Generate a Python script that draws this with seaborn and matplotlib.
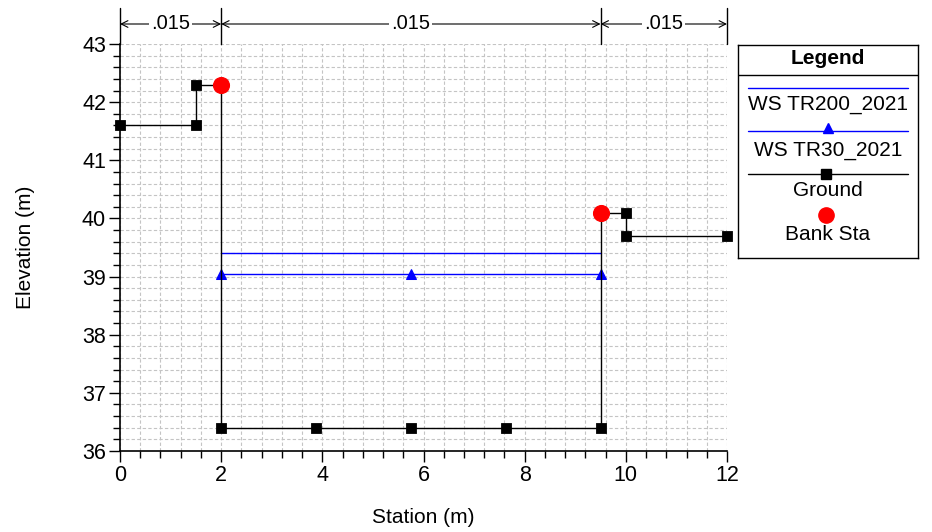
import matplotlib
matplotlib.use("Agg")
import matplotlib.pyplot as plt
import seaborn as sns
import numpy as np
import pandas as pd
from matplotlib.ticker import MultipleLocator

# ---- data ----
ground_x = [0, 1.5, 1.5, 2, 2, 3.875, 5.75, 7.625, 9.5, 9.5, 10, 10, 12]
ground_y = [41.6, 41.6, 42.3, 42.3, 36.4, 36.4, 36.4, 36.4, 36.4, 40.1, 40.1, 39.7, 39.7]
ground_mark = [True, True, True, False, True, True, True, True, True, False, True, True, True]
bank_x = [2, 9.5]
bank_y = [42.3, 40.1]
ws200_x = [2, 9.5]
ws200_y = [39.4, 39.4]
ws30_x = [2, 5.75, 9.5]
ws30_y = [39.05, 39.05, 39.05]
n_breaks = [0, 2, 9.5, 12]
n_values = [".015", ".015", ".015"]
legend_labels = ["WS TR200_2021", "WS TR30_2021", "Ground", "Bank Sta"]

sns.set_theme(style="white")
plt.rcParams['font.family'] = ['Liberation Sans', 'DejaVu Sans']
plt.rcParams['text.color'] = 'black'
plt.rcParams['axes.labelcolor'] = 'black'

fig = plt.figure(figsize=(9.32, 5.32), dpi=100)
ax = fig.add_axes([120/932, 1-451/532, 607/932, 407/532])

gdf = pd.DataFrame({"x": ground_x, "y": ground_y})
sns.lineplot(data=pd.DataFrame({"x": ws200_x, "y": ws200_y}), x="x", y="y", ax=ax,
             color="#0000ff", lw=1.0, sort=False, estimator=None, zorder=3)
sns.lineplot(data=pd.DataFrame({"x": ws30_x, "y": ws30_y}), x="x", y="y", ax=ax,
             color="#0000ff", lw=1.0, sort=False, estimator=None, zorder=3,
             marker="^", markersize=7, markeredgecolor="#0000ff")
sns.lineplot(data=gdf, x="x", y="y", ax=ax, color="black", lw=1.0,
             sort=False, estimator=None, zorder=4)
gm = gdf[np.array(ground_mark)]
sns.scatterplot(data=gm, x="x", y="y", ax=ax, color="black", marker="s", s=55,
                edgecolor="black", zorder=5, clip_on=False)
sns.scatterplot(data=pd.DataFrame({"x": bank_x, "y": bank_y}), x="x", y="y", ax=ax,
                color="#ff0000", marker="o", s=130, edgecolor="#ff0000", zorder=6)

ax.set_xlim(0, 12)
ax.set_ylim(36, 43)
ax.xaxis.set_major_locator(MultipleLocator(2))
ax.xaxis.set_minor_locator(MultipleLocator(0.4))
ax.yaxis.set_major_locator(MultipleLocator(1))
ax.yaxis.set_minor_locator(MultipleLocator(0.2))
ax.grid(True, which="both", color="#c4c4c4", linestyle=(0, (3, 2)), lw=0.8)
ax.set_axisbelow(True)
for s in ["top", "right"]:
    ax.spines[s].set_visible(False)
for s in ["left", "bottom"]:
    ax.spines[s].set_color("black")
    ax.spines[s].set_linewidth(1.2)
ax.tick_params(which="major", direction="out", length=8, width=1, colors="black",
               labelsize=15.5, left=True, bottom=True, pad=2)
ax.tick_params(which="minor", direction="out", length=5, width=1, colors="black",
               left=True, bottom=True)
ax.set_xlabel("Station (m)", fontsize=15, labelpad=16, color="black")
ax.set_ylabel("Elevation (m)", fontsize=15, labelpad=34, color="black")

# Manning's n annotation above the plot
y_top = 43 + 36/58.14
y_arr = 43 + 20/58.14
for xb in n_breaks:
    ax.plot([xb, xb], [43, y_top], color="black", lw=1.0, clip_on=False)
for i, val in enumerate(n_values):
    x0, x1 = n_breaks[i], n_breaks[i+1]
    xm = (x0 + x1) / 2
    ax.annotate("", xy=(x0, y_arr), xytext=(xm, y_arr),
                arrowprops=dict(arrowstyle="->", color="black", lw=0.8,
                                shrinkA=0, shrinkB=0), annotation_clip=False)
    ax.annotate("", xy=(x1, y_arr), xytext=(xm, y_arr),
                arrowprops=dict(arrowstyle="->", color="black", lw=0.8,
                                shrinkA=0, shrinkB=0), annotation_clip=False)
    ax.text(xm, y_arr, val, ha="center", va="center", fontsize=14.5, color="black",
            bbox=dict(facecolor="white", edgecolor="none", pad=1.5), clip_on=False)

# Legend box
lax = fig.add_axes([738/932, 1-258/532, 180/932, 213/532])
lax.set_xlim(0, 180)
lax.set_ylim(213, 0)
lax.set_xticks([])
lax.set_yticks([])
for s in lax.spines.values():
    s.set_color("black")
    s.set_linewidth(1.0)
lax.text(90, 14, "Legend", ha="center", va="center", fontsize=15, fontweight="bold", color="black")
lax.axhline(30, color="black", lw=1.0)
lax.plot([10, 170], [43, 43], color="#0000ff", lw=1.0)
lax.text(90, 59, legend_labels[0], ha="center", va="center", fontsize=15, color="black")
lax.plot([10, 170], [86, 86], color="#0000ff", lw=1.0)
lax.plot([90], [83], marker="^", color="#0000ff", markersize=7)
lax.text(90, 105, legend_labels[1], ha="center", va="center", fontsize=15, color="black")
lax.plot([10, 170], [129, 129], color="black", lw=1.0)
lax.plot([88], [129], marker="s", color="black", markersize=7)
lax.text(90, 146, legend_labels[2], ha="center", va="center", fontsize=15, color="black")
lax.plot([88], [170], marker="o", color="#ff0000", markersize=11)
lax.text(90, 190, legend_labels[3], ha="center", va="center", fontsize=15, color="black")

fig.savefig("out.png", dpi=100)
